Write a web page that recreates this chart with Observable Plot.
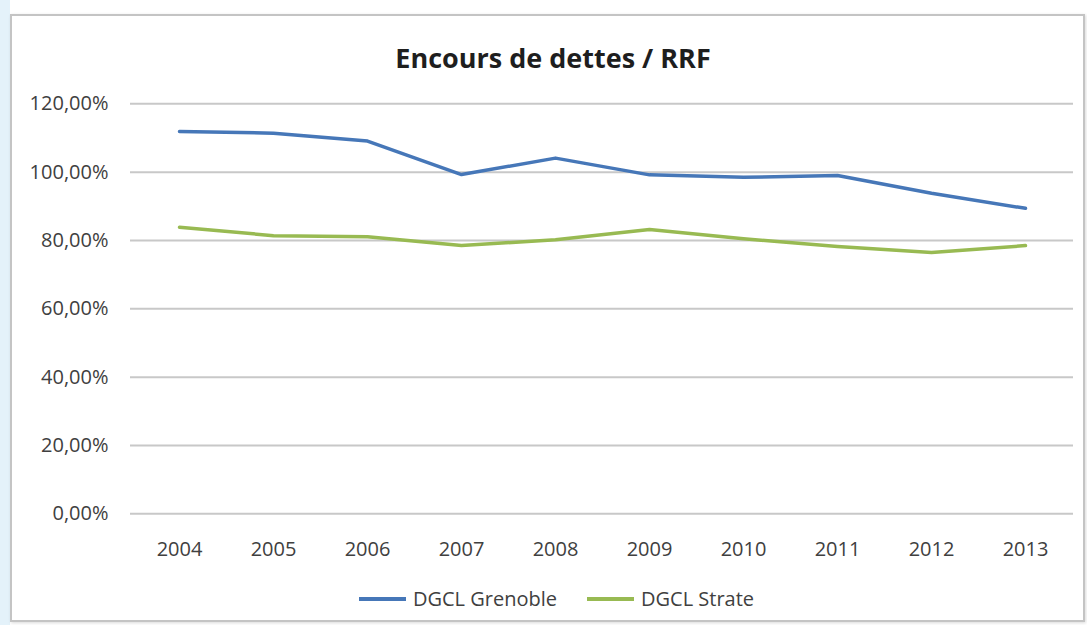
<!DOCTYPE html>
<html>
<head>
<meta charset="utf-8">
<script src="https://cdn.jsdelivr.net/npm/d3@7"></script>
<script src="https://cdn.jsdelivr.net/npm/@observablehq/plot@0.6"></script>
<style>
  html, body { margin: 0; padding: 0; background: #ffffff; width: 1087px; height: 625px; overflow: hidden; }
  #strip { position: absolute; left: 0; top: 0; width: 10px; height: 625px; background: #e4f2fa; }
  #box {
    position: absolute; left: 10px; top: 14px; width: 1071px; height: 604px;
    border: 2px solid #c4c4c4; background: #ffffff;
    box-shadow: 1px 1px 3px rgba(0,0,0,0.15);
    font-family: "Open Sans", sans-serif;
  }
  #title {
    height: 69px; box-sizing: border-box; padding-top: 26px; padding-left: 11px;
    text-align: center; font-size: 27px; line-height: 32px; font-weight: 700; color: #1e1e1e;
  }
  #chart { height: 480px; }
  #legend {
    display: flex; justify-content: center; align-items: center; padding-left: 18px;
    height: 55px; box-sizing: border-box; padding-top: 12px;
    font-size: 20px; color: #404040;
  }
  .item { display: flex; align-items: center; margin: 0 15px; }
  .sw { display: inline-block; width: 47px; height: 4px; margin-right: 7px; }
</style>
</head>
<body>
<div id="strip"></div>
<div id="box">
  <div id="title">Encours de dettes / RRF</div>
  <div id="chart"></div>
  <div id="legend"></div>
</div>
<script>
const years = [2004, 2005, 2006, 2007, 2008, 2009, 2010, 2011, 2012, 2013];
const grenoble = [111.9, 111.4, 109.1, 99.3, 104.1, 99.2, 98.5, 99.0, 93.8, 89.4];
const strate = [83.9, 81.4, 81.1, 78.5, 80.2, 83.2, 80.5, 78.2, 76.5, 78.5];
const yTicks = [0, 20, 40, 60, 80, 100, 120];
const seriesNames = ["DGCL Grenoble", "DGCL Strate"];
const seriesColors = ["#4677b8", "#98ba52"];

const data = years.flatMap((yr, i) => [
  {year: String(yr), value: grenoble[i], series: seriesNames[0]},
  {year: String(yr), value: strate[i], series: seriesNames[1]}
]);

const fmt = d => d.toFixed(2).replace(".", ",") + "%";

const plot = Plot.plot({
  width: 1071,
  height: 480,
  marginLeft: 118,
  marginRight: 10,
  marginTop: 18.3,
  marginBottom: 51.7,
  style: {fontFamily: "Open Sans, sans-serif", fontSize: "20px", color: "#404040", background: "transparent"},
  x: {type: "point", domain: years.map(String), padding: 0.5, label: null},
  y: {domain: [0, 120], label: null},
  color: {domain: seriesNames, range: seriesColors},
  marks: [
    Plot.ruleY(yTicks, {stroke: "#c8c8c8", strokeWidth: 2}),
    Plot.axisY({ticks: yTicks, tickSize: 0, tickPadding: 22, tickFormat: fmt, fontSize: 20, fill: "#404040"}),
    Plot.axisX({tickSize: 0, tickPadding: 28, fontSize: 20, fill: "#404040"}),
    Plot.line(data, {x: "year", y: "value", z: "series", stroke: "series", strokeWidth: 3.5, curve: "linear", strokeLinecap: "round", strokeLinejoin: "round"})
  ]
});
document.getElementById("chart").appendChild(plot);

const legend = document.getElementById("legend");
seriesNames.forEach((name, i) => {
  const item = document.createElement("div");
  item.className = "item";
  const sw = document.createElement("span");
  sw.className = "sw";
  sw.style.background = seriesColors[i];
  const t = document.createElement("span");
  t.textContent = name;
  item.appendChild(sw);
  item.appendChild(t);
  legend.appendChild(item);
});
</script>
</body>
</html>
